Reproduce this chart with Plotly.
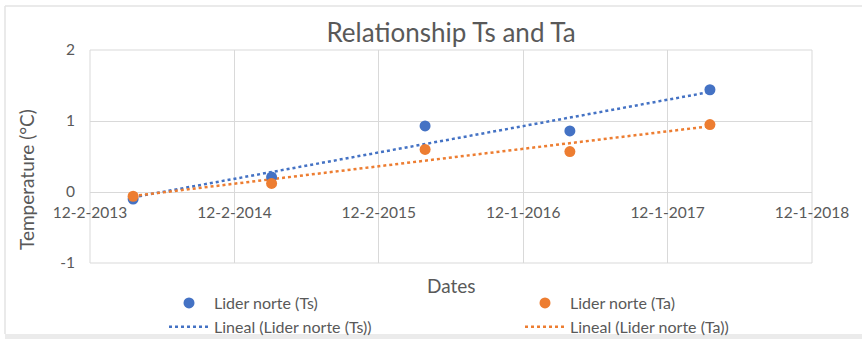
import numpy as np
import pandas as pd
import plotly.graph_objects as go

# ---- data -------------------------------------------------------------
dates = ["2014-03-21", "2015-03-06", "2016-03-28", "2017-03-29", "2018-03-18"]
ts_values = [-0.10, 0.21, 0.93, 0.86, 1.44]   # Lider norte (Ts)
ta_values = [-0.06, 0.12, 0.60, 0.57, 0.95]   # Lider norte (Ta)

tick_dates = ["2013-12-02", "2014-12-02", "2015-12-02", "2016-12-01", "2017-12-01", "2018-12-01"]
tick_labels = ["12-2-2013", "12-2-2014", "12-2-2015", "12-1-2016", "12-1-2017", "12-1-2018"]
y_ticks = [-1, 0, 1, 2]
y_tick_labels = ["-1", "0", "1", "2"]

BLUE = "#4472C4"
ORANGE = "#ED7D31"
GRID = "#D9D9D9"
TEXT = "#595959"
FONT = "Lato"

W, H = 862, 339
ML, MR, MT, MB = 90, 50, 50, 76


def linear_trend(xs, ys):
    """Least-squares straight line evaluated at the first and last date."""
    t = pd.to_datetime(xs)
    days = (t - t[0]).days.values.astype(float)
    slope, intercept = np.polyfit(days, ys, 1)
    ends = np.array([days[0], days[-1]])
    return [t[0], t[-1]], list(slope * ends + intercept)


ts_tx, ts_ty = linear_trend(dates, ts_values)
ta_tx, ta_ty = linear_trend(dates, ta_values)

fig = go.Figure()
# trend lines first so the points sit on top of them
fig.add_trace(go.Scatter(x=ts_tx, y=ts_ty, mode="lines", name="Lineal (Lider norte (Ts))",
                         line=dict(color=BLUE, width=2.5, dash="dot"),
                         legend="legend", legendrank=2))
fig.add_trace(go.Scatter(x=ta_tx, y=ta_ty, mode="lines", name="Lineal (Lider norte (Ta))",
                         line=dict(color=ORANGE, width=2.5, dash="dot"),
                         legend="legend2", legendrank=2))
fig.add_trace(go.Scatter(x=dates, y=ts_values, mode="markers", name="Lider norte (Ts)",
                         marker=dict(color=BLUE, size=11), legend="legend", legendrank=1))
fig.add_trace(go.Scatter(x=dates, y=ta_values, mode="markers", name="Lider norte (Ta)",
                         marker=dict(color=ORANGE, size=11), legend="legend2", legendrank=1))


def px_to_paper(px, py):
    pw, ph = W - ML - MR, H - MT - MB
    return (px - ML) / pw, (H - MB - py) / ph


bx0, by0 = px_to_paper(5, 6)
bx1, by1 = px_to_paper(W + 5, 334)
_, by2 = px_to_paper(0, H + 2)

legend_style = dict(xanchor="left", yanchor="top", orientation="v",
                    bgcolor="rgba(0,0,0,0)", font=dict(size=16, color=TEXT),
                    tracegroupgap=0, itemwidth=40, traceorder="normal")

fig.update_layout(
    width=W, height=H,
    margin=dict(l=ML, r=MR, t=MT, b=MB, autoexpand=False),
    paper_bgcolor="white", plot_bgcolor="white",
    font=dict(family=FONT, color=TEXT, size=15),
    title=dict(text="Relationship Ts and Ta", x=0.5, xref="paper", xanchor="center",
               y=1 - 33 / H, yanchor="middle", font=dict(size=26, color=TEXT, family=FONT)),
    xaxis=dict(type="date", range=[tick_dates[0], tick_dates[-1]],
               tickmode="array", tickvals=tick_dates, ticktext=tick_labels,
               showgrid=True, gridcolor=GRID, gridwidth=1,
               showline=False, zeroline=False,
               anchor="free", position=1 / 3, ticks="", ticklabelstandoff=9,
               tickfont=dict(size=15.5, color=TEXT)),
    yaxis=dict(range=[-1, 2], tickmode="array", tickvals=y_ticks, ticktext=y_tick_labels,
               showgrid=True, gridcolor=GRID, gridwidth=1,
               zeroline=False, showline=False, ticks="", ticklabelstandoff=14,
               tickfont=dict(size=15.5, color=TEXT)),
    showlegend=True,
    legend=dict(x=px_to_paper(164, 0)[0], y=px_to_paper(0, 286)[1], **legend_style),
    legend2=dict(x=px_to_paper(520, 0)[0], y=px_to_paper(0, 286)[1], **legend_style),
    shapes=[
        # plot-area frame in gridline colour
        dict(type="rect", xref="paper", yref="paper", x0=0, y0=0, x1=1, y1=1,
             line=dict(color=GRID, width=1), layer="below"),
        # chart-area border
        dict(type="line", xref="paper", yref="paper", x0=bx0, x1=bx1, y0=by0, y1=by0,
             line=dict(color="#E3E3E3", width=1.5)),
        dict(type="line", xref="paper", yref="paper", x0=bx0, x1=bx0, y0=by0, y1=by1,
             line=dict(color="#E3E3E3", width=1.5)),
        dict(type="rect", xref="paper", yref="paper", x0=bx0, x1=bx1, y0=by2, y1=by1,
             line=dict(width=0), fillcolor="#EBEBEB"),
    ],
    annotations=[
        dict(text="Dates", xref="paper", yref="paper", x=0.5, y=px_to_paper(0, 285)[1],
             xanchor="center", yanchor="middle", showarrow=False,
             font=dict(size=19, color=TEXT, family=FONT)),
        dict(text="Temperature (°C)", xref="paper", yref="paper", x=px_to_paper(27, 0)[0],
             y=px_to_paper(0, 180)[1], xanchor="center", yanchor="middle", textangle=-90,
             showarrow=False, font=dict(size=19, color=TEXT, family=FONT)),
    ],
)

fig.write_html("out.html")
